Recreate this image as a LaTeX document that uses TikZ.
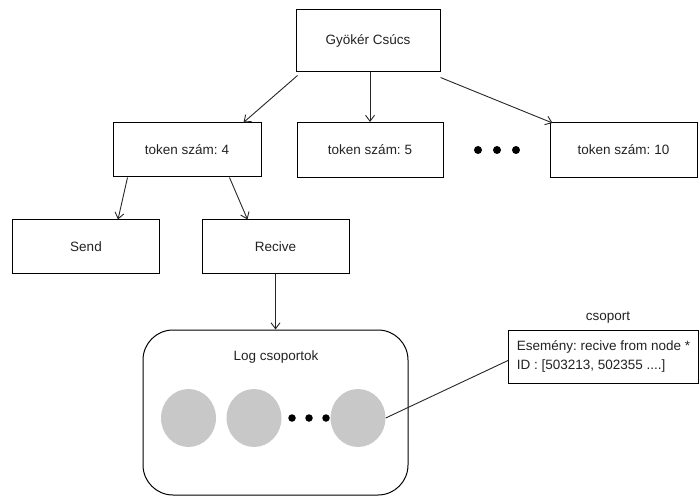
\documentclass[tikz,border=0pt]{standalone}
\usepackage{fontspec}
\setmainfont{Liberation Sans}
\usetikzlibrary{arrows.meta,shapes.geometric}
\definecolor{txt}{HTML}{222222}
\definecolor{ballc}{HTML}{C8C8C8}
\frenchspacing
\begin{document}
\begin{tikzpicture}[x=1pt,y=-1pt,
  font=\fontsize{13.5}{16}\selectfont, text=txt,
  box/.style={draw=black, line width=1pt, rectangle, inner sep=0pt},
  conn/.style={draw=black!85, line width=0.9pt, -{Straight Barb[length=6pt,width=9pt]}},
  plain/.style={draw=black!85, line width=0.9pt},
  ball/.style={ellipse, fill=ballc, draw=none, minimum width=55pt, minimum height=58pt, inner sep=0pt},
  dot/.style={circle, fill=black, draw=none, minimum size=8pt, inner sep=0pt},
  sdot/.style={circle, fill=black, draw=none, minimum size=7.5pt, inner sep=0pt}]
\useasboundingbox (0,0) rectangle (699,497);
\node[box, minimum width=144pt, minimum height=62pt] (root) at (368,41) {Gyökér Csúcs};
\node[box, minimum width=148pt, minimum height=54pt] (t4) at (187,150) {token szám: 4};
\node[box, minimum width=146pt, minimum height=55pt] (t5) at (370,150) {token szám: 5};
\node[box, minimum width=147pt, minimum height=55pt] (t10) at (623.5,150) {token szám: 10};
\node[dot] (d1) at (478,150) {};
\node[dot] (d2) at (497,150) {};
\node[dot] (d3) at (516,150) {};
\node[box, minimum width=147pt, minimum height=54pt] (send) at (86,247) {Send};
\node[box, minimum width=147pt, minimum height=54pt] (recv) at (275.5,247) {Recive};
\node[box, rounded corners=30pt, minimum width=265pt, minimum height=165pt] (log) at (275.5,412.5) {};
\node (logt) at (276,357) {Log csoportok};
\node[ball] (c1) at (188.5,418) {};
\node[ball] (c2) at (254,418) {};
\node[ball] (c3) at (358,418) {};
\node[sdot] (e1) at (292,418) {};
\node[sdot] (e2) at (309,418) {};
\node[sdot] (e3) at (326,418) {};
\node[box, minimum width=190pt, minimum height=53pt, align=left, anchor=west, inner xsep=3pt] (cs) at (508,356.5) {Esemény: recive from node *\\[3pt]ID : [503213, 502355 ....]};
\node (cst) at (608,318) {csoport};
\draw[conn] ([xshift=2pt,yshift=-3pt]root.south west) -- ([xshift=-18pt]t4.north east);
\draw[conn] ([xshift=2pt]root.south) -- (t5.north);
\draw[conn] ([yshift=-5pt]root.south east) -- ([xshift=3pt,yshift=-1pt]t10.north west);
\draw[conn] ([xshift=15pt]t4.south west) -- ([xshift=32pt]send.north);
\draw[conn] ([xshift=-32pt]t4.south east) -- ([xshift=-28pt]recv.north);
\draw[conn] (recv.south) -- (log.north);
\draw[plain] (c3.east) -- ([yshift=-4pt]cs.west);
\end{tikzpicture}
\end{document}
